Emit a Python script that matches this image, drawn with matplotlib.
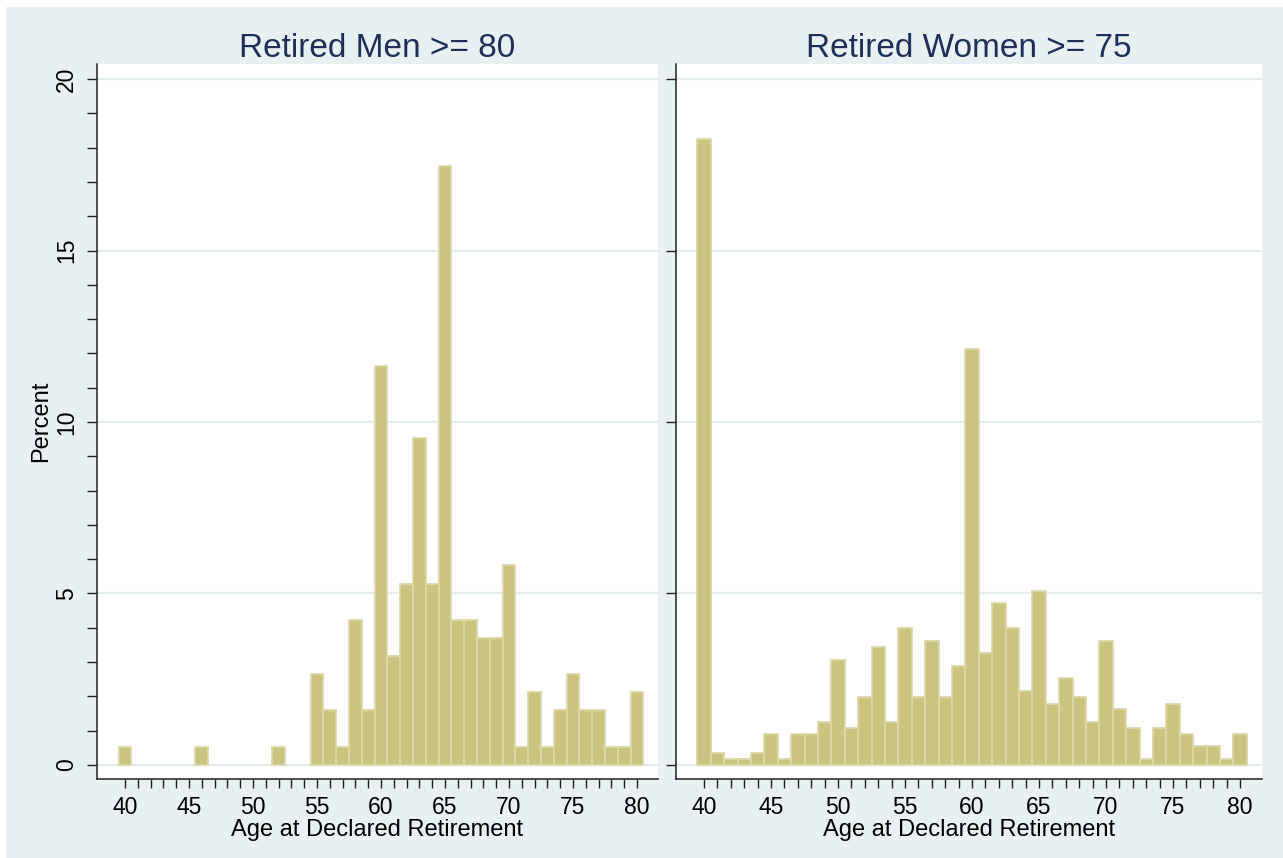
import matplotlib.pyplot as plt
from matplotlib.patches import Rectangle
from matplotlib.ticker import MultipleLocator, FixedLocator

plt.rcParams['font.family'] = ['Liberation Sans', 'DejaVu Sans']

# Data: percent of retirees by declared retirement age
men_ages = [40, 46, 52, 55, 56, 57, 58, 59, 60, 61, 62, 63, 64, 65, 66, 67,
            68, 69, 70, 71, 72, 73, 74, 75, 76, 77, 78, 79, 80]
men_pct = [0.53, 0.53, 0.53, 2.65, 1.59, 0.53, 4.23, 1.59, 11.64, 3.17, 5.29,
           9.52, 5.29, 17.46, 4.23, 4.23, 3.70, 3.70, 5.82, 0.53, 2.12, 0.53,
           1.59, 2.65, 1.59, 1.59, 0.53, 0.53, 2.12]

women_ages = list(range(40, 81))
women_pct = [18.25, 0.35, 0.16, 0.16, 0.35, 0.90, 0.16, 0.90, 0.90, 1.25,
             3.07, 1.08, 1.99, 3.45, 1.25, 3.99, 1.99, 3.62, 1.99, 2.89,
             12.13, 3.26, 4.71, 3.99, 2.17, 5.08, 1.79, 2.53, 1.99, 1.25,
             3.62, 1.63, 1.08, 0.16, 1.08, 1.79, 0.90, 0.55, 0.55, 0.16, 0.90]

titles = ['Retired Men >= 80', 'Retired Women >= 75']
x_ticks = [40, 45, 50, 55, 60, 65, 70, 75, 80]
x_minor = list(range(40, 81))
y_ticks = [0, 5, 10, 15, 20]

BG = '#E8F0F2'
BAR = '#CBC47F'
BAR_EDGE = '#DCD8A8'
TITLE_COLOR = '#1F2F5A'

fig = plt.figure(figsize=(12.83, 8.58), dpi=100)
fig.patch.set_facecolor('white')
# light bluish graph region, leaving a thin white strip top/left
fig.patches.append(Rectangle((6 / 1283, 0), 1, 1 - 7 / 858, transform=fig.transFigure,
                             facecolor=BG, edgecolor='none', zorder=-10))

ax1 = fig.add_axes([97 / 1283, 79 / 858, 561 / 1283, 715 / 858])
ax2 = fig.add_axes([676 / 1283, 79 / 858, 586 / 1283, 715 / 858])

panels = [(ax1, men_ages, men_pct, (37.81, 81.64)),
          (ax2, women_ages, women_pct, (37.91, 81.64))]

for i, (ax, ages, pct, xlim) in enumerate(panels):
    ax.set_facecolor('white')
    ax.bar(ages, pct, width=1.0, color=BAR, edgecolor=BAR_EDGE, linewidth=1.3, zorder=2)

    ax.set_xlim(*xlim)
    ax.set_ylim(-0.41, 20.44)
    ax.set_xticks(x_ticks)
    ax.xaxis.set_minor_locator(FixedLocator(x_minor))
    ax.set_yticks(y_ticks)

    ax.yaxis.grid(True, color='#E4EDF0', linewidth=1.6, zorder=0)
    ax.set_axisbelow(True)

    for side in ['top', 'right']:
        ax.spines[side].set_visible(False)
    for side in ['left', 'bottom']:
        ax.spines[side].set_color('#222222')
        ax.spines[side].set_linewidth(1.1)

    ax.tick_params(axis='x', which='both', direction='out', length=6.5, width=1,
                   color='#222222', labelsize=16.5, pad=6)
    ax.tick_params(axis='y', which='both', direction='out', length=7.5, width=1,
                   color='#222222', labelsize=16.5, pad=6)

    ax.set_title(titles[i], fontsize=24, color=TITLE_COLOR, pad=5)
    ax.set_xlabel('Age at Declared Retirement', fontsize=17, labelpad=0)

# left panel: rotated tick labels, minor ticks each percent
ax1.yaxis.set_minor_locator(MultipleLocator(1))
for lab in ax1.get_yticklabels():
    lab.set_rotation(90)
    lab.set_va('center')
ax1.set_ylabel('Percent', fontsize=17, labelpad=2)

# right panel shares the scale, no labels
ax2.set_yticklabels([])

fig.savefig('out.png', dpi=100, facecolor=fig.get_facecolor())
